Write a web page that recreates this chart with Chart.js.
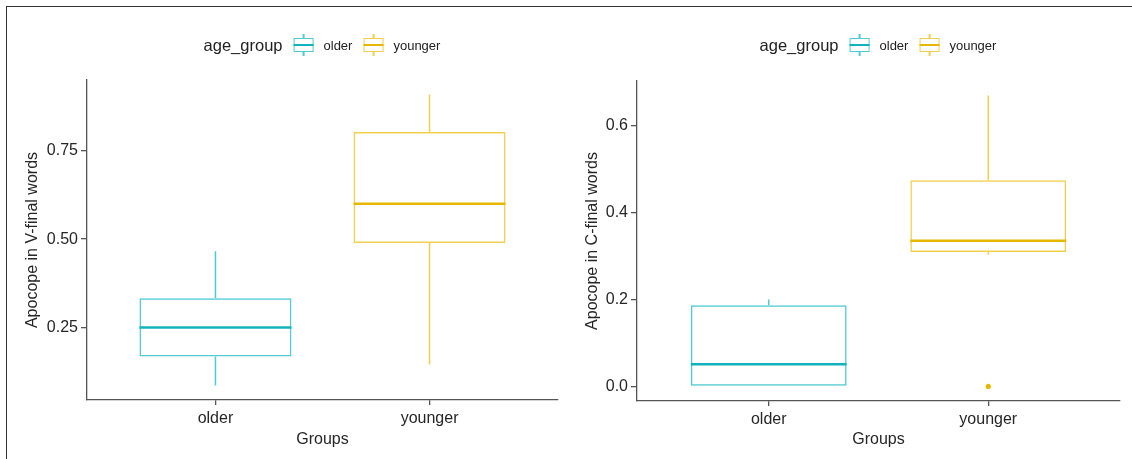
<!DOCTYPE html>
<html>
<head>
<meta charset="utf-8">
<script src="https://cdn.jsdelivr.net/npm/chart.js@4/dist/chart.umd.min.js"></script>
<style>
  html, body { margin: 0; padding: 0; background: #fff; overflow: hidden; }
  body { width: 1132px; height: 459px; position: relative; font-family: 'Liberation Sans', Arial, sans-serif; }
  .frame { position: absolute; left: 6px; top: 6px; width: 1200px; height: 500px;
           border-top: 1.5px solid #333; border-left: 1.5px solid #333; }
  .panel { position: absolute; top: 0; width: 566px; height: 459px; }
  .legend { position: absolute; top: 34px; transform: translateX(-50%); display: flex;
            align-items: center; white-space: nowrap; color: #222; }
  .legend .title { font-size: 16.5px; margin-right: 11px; }
  .legend .lab { font-size: 13px; margin-left: 10px; margin-right: 11px; }
  .legend .lab:last-child { margin-right: 0; }
  .key { position: relative; width: 20px; height: 22px; display: inline-block; }
  .key .wh { position: absolute; left: 9.25px; top: 0; width: 1.5px; height: 22px; background: var(--c); }
  .key .bx { position: absolute; left: 0; top: 4px; width: 20px; height: 14px; box-sizing: border-box;
             border: 1.5px solid var(--c); background: #fff; }
  .key .md { position: absolute; left: 0; top: 10px; width: 20px; height: 2px; background: var(--m); }
</style>
</head>
<body>
<div class="frame"></div>

<div class="panel" style="left:0">
  <canvas id="vChart" width="566" height="459"></canvas>
</div>
<div class="panel" style="left:566px">
  <canvas id="cChart" width="566" height="459"></canvas>
</div>

<div class="legend" style="left:322px">
  <span class="title">age_group</span>
  <span class="key" style="--c:#4fcbd3;--m:#12b2bc"><i class="wh"></i><i class="bx"></i><i class="md"></i></span>
  <span class="lab">older</span>
  <span class="key" style="--c:#f2cf4f;--m:#e7b800"><i class="wh"></i><i class="bx"></i><i class="md"></i></span>
  <span class="lab">younger</span>
</div>
<div class="legend" style="left:878px">
  <span class="title">age_group</span>
  <span class="key" style="--c:#4fcbd3;--m:#12b2bc"><i class="wh"></i><i class="bx"></i><i class="md"></i></span>
  <span class="lab">older</span>
  <span class="key" style="--c:#f2cf4f;--m:#e7b800"><i class="wh"></i><i class="bx"></i><i class="md"></i></span>
  <span class="lab">younger</span>
</div>

<script>
// groups on the x axis
const groups = ['older', 'younger'];

// apocope in V-final words (box stats per group)
const vLow = [0.086, 0.145];
const vQ1 = [0.168, 0.489];
const vMedian = [0.25, 0.60];
const vQ3 = [0.333, 0.803];
const vHigh = [0.466, 0.909];
const vOutliers = [[], []];
const vTicks = [0.25, 0.50, 0.75];

// apocope in C-final words
const cLow = [0.0, 0.303];
const cQ1 = [0.0, 0.309];
const cMedian = [0.051, 0.335];
const cQ3 = [0.187, 0.474];
const cHigh = [0.200, 0.669];
const cOutliers = [[], [0.0]];
const cTicks = [0.0, 0.2, 0.4, 0.6];

const boxColors = ['#4fcbd3', '#f2cf4f'];
const medianColors = ['#12b2bc', '#e7b800'];
const axisColor = '#555';
const textColor = '#262626';
const FONT = "'Liberation Sans', Arial, sans-serif";

// whiskers + median line, drawn from the bar elements and the y scale
function whiskerPlugin(low, med, high, q1, q3) {
    return {
        id: 'whiskers',
        afterDatasetsDraw(chart) {
            const ctx = chart.ctx;
            const y = chart.scales.y;
            const meta = chart.getDatasetMeta(0);
            ctx.save();
            meta.data.forEach((bar, i) => {
                const half = bar.width / 2;
                ctx.strokeStyle = boxColors[i];
                ctx.lineWidth = 1.5;
                ctx.beginPath();
                ctx.moveTo(bar.x, y.getPixelForValue(q3[i]));
                ctx.lineTo(bar.x, y.getPixelForValue(high[i]));
                ctx.moveTo(bar.x, y.getPixelForValue(q1[i]));
                ctx.lineTo(bar.x, y.getPixelForValue(low[i]));
                ctx.stroke();

                const ym = y.getPixelForValue(med[i]);
                ctx.strokeStyle = medianColors[i];
                ctx.lineWidth = 2.5;
                ctx.beginPath();
                ctx.moveTo(bar.x - half, ym);
                ctx.lineTo(bar.x + half, ym);
                ctx.stroke();
            });
            ctx.restore();
        }
    };
}

function makeBoxChart(id, s, yTicks, decimals, yTitle, opt) {
    const allVals = s.low.concat(s.high, ...s.outliers);
    const lo = Math.min(...allVals), hi = Math.max(...allVals);
    const pad = (hi - lo) * 0.05;   // ggplot default expansion

    const outlierPts = [];
    s.outliers.forEach((list, i) => list.forEach(v => outlierPts.push({ x: i + 1, y: v })));

    new Chart(document.getElementById(id), {
        type: 'bar',
        data: {
            datasets: [{
                data: groups.map((g, i) => ({ x: i + 1, y: [s.q1[i], s.q3[i]] })),
                backgroundColor: 'rgba(255,255,255,0)',
                borderColor: boxColors,
                borderWidth: 1.5,
                borderSkipped: false,
                categoryPercentage: 1,
                barPercentage: 0.71
            }, {
                type: 'scatter',
                data: outlierPts,
                pointRadius: 2.6,
                pointBackgroundColor: medianColors[1],
                pointBorderWidth: 0
            }]
        },
        options: {
            responsive: false,
            animation: false,
            layout: { padding: { left: 0, right: opt.right, top: opt.top, bottom: 10 } },
            plugins: { legend: { display: false }, tooltip: { enabled: false } },
            scales: {
                x: {
                    type: 'linear',
                    offset: false,
                    min: 0.4,
                    max: 2.6,
                    afterBuildTicks: sc => { sc.ticks = groups.map((g, i) => ({ value: i + 1 })); },
                    afterFit: sc => { sc.height = opt.xHeight; },
                    ticks: {
                        callback: v => groups[v - 1] || '',
                        font: { family: FONT, size: 16 },
                        color: textColor,
                        padding: 4,
                        maxRotation: 0,
                        autoSkip: false
                    },
                    grid: { offset: false, drawOnChartArea: false, tickLength: 5, color: axisColor, lineWidth: 1.3 },
                    border: { color: axisColor, width: 1.3 },
                    title: { display: true, text: 'Groups', font: { family: FONT, size: 16 }, color: textColor, padding: 0 }
                },
                y: {
                    min: lo - pad,
                    max: hi + pad,
                    afterBuildTicks: sc => { sc.ticks = yTicks.map(v => ({ value: v })); },
                    afterFit: sc => { sc.width = opt.yWidth; },
                    ticks: {
                        callback: v => Number(v).toFixed(decimals),
                        font: { family: FONT, size: 16 },
                        color: textColor,
                        padding: 3
                    },
                    grid: { drawOnChartArea: false, tickLength: 6, color: axisColor, lineWidth: 1.3 },
                    border: { color: axisColor, width: 1.3 },
                    title: { display: true, text: yTitle, font: { family: FONT, size: 16 }, color: textColor,
                             padding: { top: opt.titlePad, bottom: 0 } }
                }
            }
        },
        plugins: [whiskerPlugin(s.low, s.median, s.high, s.q1, s.q3)]
    });
}

makeBoxChart('vChart',
    { low: vLow, q1: vQ1, median: vMedian, q3: vQ3, high: vHigh, outliers: vOutliers },
    vTicks, 2, 'Apocope in V-final words',
    { yWidth: 87, right: 8, top: 80, xHeight: 49, titlePad: 23 });

makeBoxChart('cChart',
    { low: cLow, q1: cQ1, median: cMedian, q3: cQ3, high: cHigh, outliers: cOutliers },
    cTicks, 1, 'Apocope in C-final words',
    { yWidth: 71, right: 12, top: 81, xHeight: 48, titlePad: 17 });
</script>
</body>
</html>
